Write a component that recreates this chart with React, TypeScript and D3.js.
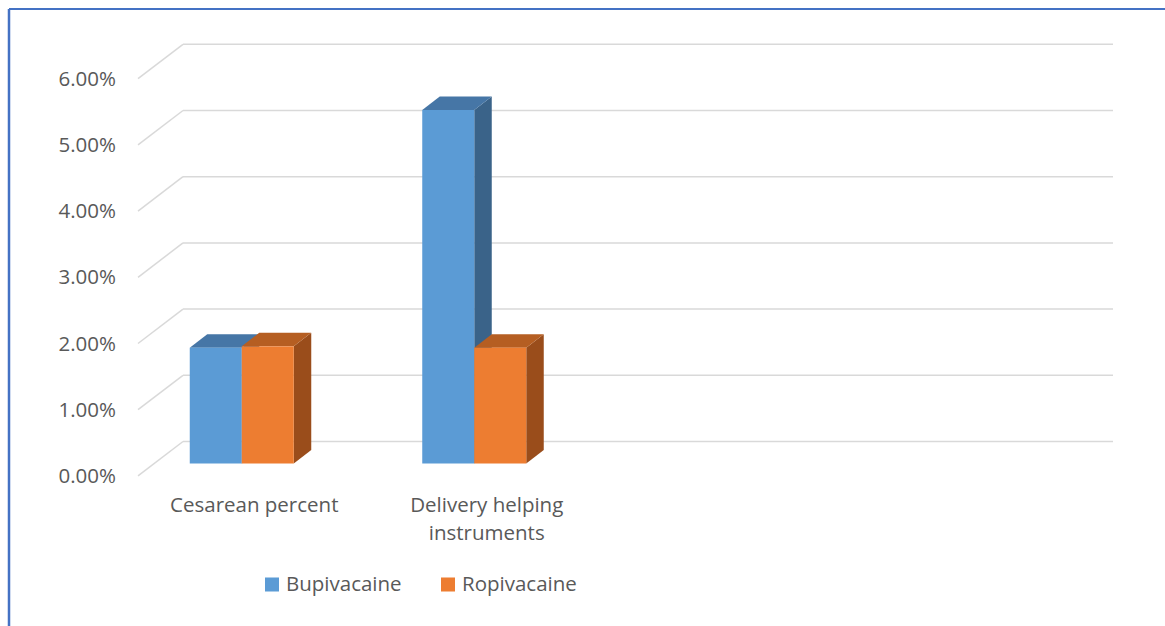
import * as d3 from 'd3';
import React from 'react';

// data
const categories = ['Cesarean percent', 'Delivery helping instruments', '', ''];
const categoryLines = [['Cesarean percent'], ['Delivery helping', 'instruments'], [], []];
const seriesNames = ['Bupivacaine', 'Ropivacaine'];
const bupivacaine = [1.75, 5.34];
const ropivacaine = [1.77, 1.75];
const yTicks = [0, 1, 2, 3, 4, 5, 6];

const W = 1165;
const H = 626;
const FONT = '"Open Sans", sans-serif';
const TEXT = '#595959';

// 3D look
const wallDx = 45;
const wallDy = 34.4;
const barDx = 17.5;
const barDy = 13.5;

const colors = [
  { front: '#5B9BD5', top: '#4676A6', side: '#3A6389' },
  { front: '#ED7D31', top: '#B55E22', side: '#9A4D1B' },
];

const App = () => {
  const x = d3.scaleBand<string>()
    .domain(categories.map((_, i) => String(i)))
    .range([138, 1068]);

  const inner = d3.scaleBand<string>()
    .domain(seriesNames)
    .range([0, 104]);

  const yBack = d3.scaleLinear().domain([0, 6]).range([441.5, 44.3]);
  const yBar = d3.scaleLinear().domain([0, 6]).range([463.5, 463.5 - 6 * 66.2]);
  const fmt = d3.format('.2f');

  const values = [bupivacaine, ropivacaine];

  const bars: JSX.Element[] = [];
  categories.forEach((c, ci) => {
    seriesNames.forEach((s, si) => {
      const v = values[si][ci];
      if (v === undefined) return;
      const groupLeft = (x(String(ci)) as number) + x.bandwidth() / 2 - 12.5 - 52;
      const x0 = groupLeft + (inner(s) as number);
      const x1 = x0 + inner.bandwidth();
      const yb = yBar(0);
      const yt = yBar(v);
      const col = colors[si];
      bars.push(
        <g key={`${ci}-${si}`}>
          <polygon
            points={`${x1},${yt} ${x1 + barDx},${yt - barDy} ${x1 + barDx},${yb - barDy} ${x1},${yb}`}
            fill={col.side}
          />
          <polygon
            points={`${x0},${yt} ${x0 + barDx},${yt - barDy} ${x1 + barDx},${yt - barDy} ${x1},${yt}`}
            fill={col.top}
          />
          <rect x={x0} y={yt} width={x1 - x0} height={yb - yt} fill={col.front} />
        </g>
      );
    });
  });

  return (
    <div style={{ position: 'absolute', left: 0, top: 0 }}>
      <svg width={W} height={H} style={{ display: 'block', background: '#fff' }}>
        {/* frame */}
        <line x1={9} y1={9} x2={W} y2={9} stroke="#4472C4" strokeWidth={2} />
        <line x1={9} y1={9} x2={9} y2={H} stroke="#4472C4" strokeWidth={2.5} />

        {/* grid: side diagonals + back wall */}
        {yTicks.map((t) => {
          const yb = yBack(t);
          return (
            <g key={t}>
              <line x1={138} y1={yb + wallDy} x2={138 + wallDx} y2={yb} stroke="#D9D9D9" strokeWidth={1.5} />
              <line x1={138 + wallDx} y1={yb} x2={1113} y2={yb} stroke="#D9D9D9" strokeWidth={1.5} />
              <text
                x={116}
                y={yb + wallDy}
                dy="0.35em"
                textAnchor="end"
                fontFamily={FONT}
                fontSize={20.5}
                fill={TEXT}
              >
                {fmt(t)}%
              </text>
            </g>
          );
        })}

        {bars}

        {/* category labels */}
        {categoryLines.map((lines, ci) => (
          <text
            key={ci}
            x={(x(String(ci)) as number) + x.bandwidth() / 2}
            textAnchor="middle"
            fontFamily={FONT}
            fontSize={20.5}
            fill={TEXT}
          >
            {lines.map((l, li) => (
              <tspan key={li} x={(x(String(ci)) as number) + x.bandwidth() / 2} y={512 + li * 28}>
                {l}
              </tspan>
            ))}
          </text>
        ))}

        {/* legend */}
        {seriesNames.map((s, i) => {
          const lx = [265, 441][i];
          return (
            <g key={s}>
              <rect x={lx} y={577.5} width={14} height={14} fill={colors[i].front} />
              <text x={lx + 21} y={591} fontFamily={FONT} fontSize={20.5} fill={TEXT}>
                {s}
              </text>
            </g>
          );
        })}
      </svg>
    </div>
  );
};

export default App;
